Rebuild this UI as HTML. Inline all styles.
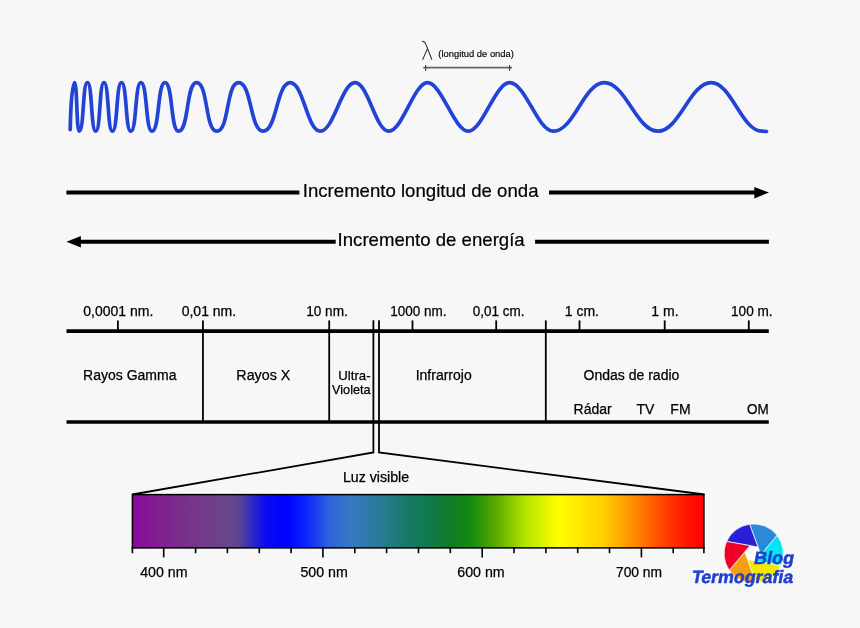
<!DOCTYPE html>
<html><head><meta charset="utf-8"><style>
html,body{margin:0;padding:0;background:#f7f7f7;}
svg{display:block;will-change:transform;}
</style></head><body>
<svg width="860" height="628" viewBox="0 0 860 628">
<rect width="860" height="628" fill="#f7f7f7"/>
<path d="M422.0,41.3 Q424.6,41.2 425.9,44.4 L431.9,59.8 M427.4,48.9 L422.6,59.8" fill="none" stroke="#333" stroke-width="1.1"/>
<text x="438.3" y="57.3" font-family="Liberation Sans" font-size="9.4" fill="#000" stroke="#000" stroke-width="0.15">(longitud de onda)</text>
<line x1="423.3" y1="67.7" x2="512" y2="67.7" stroke="#666" stroke-width="1.7"/>
<line x1="425.7" y1="65" x2="425.7" y2="71" stroke="#333" stroke-width="1"/>
<line x1="509.6" y1="65" x2="509.6" y2="71" stroke="#333" stroke-width="1"/>
<path d="M70.2,129.6 C70.8,100 72.6,82.7 74.50,82.70 C77.30,82.70 76.40,131.20 79.20,131.20 C84.06,131.20 82.54,82.70 87.40,82.70 C92.38,82.70 90.82,131.20 95.80,131.20 C100.66,131.20 99.14,82.70 104.00,82.70 C108.98,82.70 107.42,131.20 112.40,131.20 C117.78,131.20 116.12,82.70 121.50,82.70 C127.00,82.70 125.30,131.20 130.80,131.20 C136.77,131.20 134.93,82.70 140.90,82.70 C147.45,82.70 145.45,131.20 152.00,131.20 C159.65,131.20 157.35,82.70 165.00,82.70 C172.93,82.70 170.57,131.20 178.50,131.20 C189.01,131.20 185.99,82.70 196.50,82.70 C208.31,82.70 204.99,131.20 216.80,131.20 C229.45,131.20 225.95,82.70 238.60,82.70 C251.84,82.70 249.96,131.20 263.20,131.20 C276.70,131.20 276.70,82.70 290.20,82.70 C303.70,82.70 306.90,131.20 320.40,131.20 C333.55,131.20 341.85,82.70 355.00,82.70 C368.26,82.70 375.54,131.20 388.80,131.20 C402.35,131.20 414.05,82.70 427.60,82.70 C441.47,82.70 454.33,131.20 468.20,131.20 C482.37,131.20 495.33,82.70 509.50,82.70 C525.78,82.70 537.22,131.20 553.50,131.20 C573.78,131.20 584.02,82.70 604.30,82.70 C625.78,82.70 636.52,131.20 658.00,131.20 C679.28,131.20 689.92,82.70 711.20,82.70 C731.48,82.70 741.72,131.20 762.00,131.20 L766.60,131.50" fill="none" stroke="#2143d6" stroke-width="3.7" stroke-linecap="round"/>
<line x1="66.4" y1="192.6" x2="299.4" y2="192.6" stroke="#000" stroke-width="4"/>
<line x1="549" y1="192.6" x2="756" y2="192.6" stroke="#000" stroke-width="4"/>
<polygon points="754.3,186.9 769,192.6 754.3,198.4" fill="#000"/>
<text x="302.8" y="196.9" font-family="Liberation Sans" font-size="18.6" fill="#000" stroke="#000" stroke-width="0.2">Incremento longitud de onda</text>
<line x1="79" y1="241.8" x2="335.7" y2="241.8" stroke="#000" stroke-width="4"/>
<line x1="535.1" y1="241.8" x2="768.9" y2="241.8" stroke="#000" stroke-width="4"/>
<polygon points="80.9,236 66.4,241.8 80.9,247.6" fill="#000"/>
<text x="337.6" y="246.2" font-family="Liberation Sans" font-size="18.6" fill="#000" stroke="#000" stroke-width="0.2">Incremento de energía</text>
<line x1="66.5" y1="331.15" x2="768.8" y2="331.15" stroke="#000" stroke-width="3.8"/>
<line x1="66.5" y1="422.0" x2="768.8" y2="422.0" stroke="#000" stroke-width="3.6"/>
<line x1="117.9" y1="320.4" x2="117.9" y2="331" stroke="#000" stroke-width="1.8"/>
<line x1="412.5" y1="320.4" x2="412.5" y2="331" stroke="#000" stroke-width="1.8"/>
<line x1="496.2" y1="320.4" x2="496.2" y2="331" stroke="#000" stroke-width="1.8"/>
<line x1="579.5" y1="320.4" x2="579.5" y2="331" stroke="#000" stroke-width="1.8"/>
<line x1="664.7" y1="320.4" x2="664.7" y2="331" stroke="#000" stroke-width="1.8"/>
<line x1="748.8" y1="320.4" x2="748.8" y2="331" stroke="#000" stroke-width="1.8"/>
<line x1="202.95" y1="320.4" x2="202.95" y2="422" stroke="#000" stroke-width="1.8"/>
<line x1="329.2" y1="320.4" x2="329.2" y2="422" stroke="#000" stroke-width="1.8"/>
<line x1="545.8" y1="320.4" x2="545.8" y2="422" stroke="#000" stroke-width="1.8"/>
<polyline points="373.4,320.2 373.4,452.5 132.2,494.5" fill="none" stroke="#000" stroke-width="1.8"/>
<polyline points="379.0,320.2 379.0,452.5 704.5,494.5" fill="none" stroke="#000" stroke-width="1.8"/>
<text x="83.3" y="315.8" font-family="Liberation Sans" font-size="14" fill="#000" stroke="#000" stroke-width="0.25">0,0001 nm.</text>
<text x="181.7" y="315.8" font-family="Liberation Sans" font-size="14" fill="#000" stroke="#000" stroke-width="0.25">0,01 nm.</text>
<text x="306.13" y="315.8" font-family="Liberation Sans" font-size="14" fill="#000" stroke="#000" stroke-width="0.25" textLength="41.66" lengthAdjust="spacingAndGlyphs">10 nm.</text>
<text x="390.13" y="315.8" font-family="Liberation Sans" font-size="14" fill="#000" stroke="#000" stroke-width="0.25" textLength="56.39" lengthAdjust="spacingAndGlyphs">1000 nm.</text>
<text x="472.8" y="315.8" font-family="Liberation Sans" font-size="14" fill="#000" stroke="#000" stroke-width="0.25" textLength="51.68" lengthAdjust="spacingAndGlyphs">0,01 cm.</text>
<text x="564.72" y="315.8" font-family="Liberation Sans" font-size="14" fill="#000" stroke="#000" stroke-width="0.25">1 cm.</text>
<text x="651.37" y="315.8" font-family="Liberation Sans" font-size="14" fill="#000" stroke="#000" stroke-width="0.25">1 m.</text>
<text x="731.03" y="315.8" font-family="Liberation Sans" font-size="14" fill="#000" stroke="#000" stroke-width="0.25" textLength="41.56" lengthAdjust="spacingAndGlyphs">100 m.</text>
<text x="83.11" y="379.8" font-family="Liberation Sans" font-size="14" fill="#000" stroke="#000" stroke-width="0.25">Rayos Gamma</text>
<text x="236.38" y="379.7" font-family="Liberation Sans" font-size="14" fill="#000" stroke="#000" stroke-width="0.25" textLength="53.96" lengthAdjust="spacingAndGlyphs">Rayos X</text>
<text x="338.31" y="379.9" font-family="Liberation Sans" font-size="13.2" fill="#000" stroke="#000" stroke-width="0.25">Ultra-</text>
<text x="332.1" y="394.1" font-family="Liberation Sans" font-size="13.2" fill="#000" stroke="#000" stroke-width="0.25" textLength="38.49" lengthAdjust="spacingAndGlyphs">Violeta</text>
<text x="415.69" y="380.0" font-family="Liberation Sans" font-size="14" fill="#000" stroke="#000" stroke-width="0.25">Infrarrojo</text>
<text x="583.6" y="380.0" font-family="Liberation Sans" font-size="14" fill="#000" stroke="#000" stroke-width="0.25">Ondas de radio</text>
<text x="573.59" y="413.7" font-family="Liberation Sans" font-size="14" fill="#000" stroke="#000" stroke-width="0.25">Rádar</text>
<text x="636.5" y="413.7" font-family="Liberation Sans" font-size="14" fill="#000" stroke="#000" stroke-width="0.25">TV</text>
<text x="670.33" y="413.7" font-family="Liberation Sans" font-size="14" fill="#000" stroke="#000" stroke-width="0.25">FM</text>
<text x="747.0" y="413.7" font-family="Liberation Sans" font-size="14" fill="#000" stroke="#000" stroke-width="0.25" textLength="21.74" lengthAdjust="spacingAndGlyphs">OM</text>
<text x="342.91" y="482.4" font-family="Liberation Sans" font-size="14.2" fill="#000" stroke="#000" stroke-width="0.25">Luz visible</text>
<defs><linearGradient id="sp" x1="0" y1="0" x2="1" y2="0"><stop offset="-0.0007" stop-color="#8a08a0"/><stop offset="0.0483" stop-color="#80208f"/><stop offset="0.1183" stop-color="#743a8a"/><stop offset="0.1708" stop-color="#6a4788"/><stop offset="0.1918" stop-color="#52409a"/><stop offset="0.2110" stop-color="#2c26c6"/><stop offset="0.2320" stop-color="#0c0cf0"/><stop offset="0.2670" stop-color="#0000ff"/><stop offset="0.3020" stop-color="#0a22ff"/><stop offset="0.3458" stop-color="#3064d8"/><stop offset="0.3808" stop-color="#3878c4"/><stop offset="0.4332" stop-color="#2a7a95"/><stop offset="0.4892" stop-color="#137a60"/><stop offset="0.5382" stop-color="#117a3a"/><stop offset="0.5645" stop-color="#11801f"/><stop offset="0.5942" stop-color="#168a10"/><stop offset="0.6345" stop-color="#58a800"/><stop offset="0.6870" stop-color="#b4e400"/><stop offset="0.7447" stop-color="#ffff00"/><stop offset="0.8234" stop-color="#ffd000"/><stop offset="0.8812" stop-color="#ff8800"/><stop offset="0.9319" stop-color="#ff4000"/><stop offset="0.9757" stop-color="#ff1000"/><stop offset="1.0002" stop-color="#ff0000"/></linearGradient></defs>
<rect x="132.4" y="494.6" width="571.5" height="53.3" fill="url(#sp)" stroke="#000" stroke-width="1.5"/>
<line x1="132.4" y1="547" x2="132.4" y2="553.2" stroke="#000" stroke-width="1.6"/>
<line x1="163.7" y1="547" x2="163.7" y2="557.4" stroke="#000" stroke-width="1.6"/>
<line x1="195.6" y1="547" x2="195.6" y2="553.2" stroke="#000" stroke-width="1.6"/>
<line x1="227.4" y1="547" x2="227.4" y2="553.2" stroke="#000" stroke-width="1.6"/>
<line x1="259.3" y1="547" x2="259.3" y2="553.2" stroke="#000" stroke-width="1.6"/>
<line x1="291.1" y1="547" x2="291.1" y2="553.2" stroke="#000" stroke-width="1.6"/>
<line x1="322.9" y1="547" x2="322.9" y2="557.4" stroke="#000" stroke-width="1.6"/>
<line x1="354.8" y1="547" x2="354.8" y2="553.2" stroke="#000" stroke-width="1.6"/>
<line x1="386.6" y1="547" x2="386.6" y2="553.2" stroke="#000" stroke-width="1.6"/>
<line x1="418.5" y1="547" x2="418.5" y2="553.2" stroke="#000" stroke-width="1.6"/>
<line x1="450.3" y1="547" x2="450.3" y2="553.2" stroke="#000" stroke-width="1.6"/>
<line x1="482.2" y1="547" x2="482.2" y2="557.4" stroke="#000" stroke-width="1.6"/>
<line x1="514.0" y1="547" x2="514.0" y2="553.2" stroke="#000" stroke-width="1.6"/>
<line x1="545.9" y1="547" x2="545.9" y2="553.2" stroke="#000" stroke-width="1.6"/>
<line x1="577.7" y1="547" x2="577.7" y2="553.2" stroke="#000" stroke-width="1.6"/>
<line x1="609.5" y1="547" x2="609.5" y2="553.2" stroke="#000" stroke-width="1.6"/>
<line x1="641.4" y1="547" x2="641.4" y2="557.4" stroke="#000" stroke-width="1.6"/>
<line x1="673.2" y1="547" x2="673.2" y2="553.2" stroke="#000" stroke-width="1.6"/>
<line x1="703.9" y1="547" x2="703.9" y2="553.2" stroke="#000" stroke-width="1.6"/>
<text x="140.2" y="576.8" font-family="Liberation Sans" font-size="14.2" fill="#000" stroke="#000" stroke-width="0.25">400 nm</text>
<text x="300.4" y="576.8" font-family="Liberation Sans" font-size="14.2" fill="#000" stroke="#000" stroke-width="0.25">500 nm</text>
<text x="457.3" y="576.8" font-family="Liberation Sans" font-size="14.2" fill="#000" stroke="#000" stroke-width="0.25">600 nm</text>
<text x="616.0" y="576.8" font-family="Liberation Sans" font-size="14.2" fill="#000" stroke="#000" stroke-width="0.25" textLength="46.02" lengthAdjust="spacingAndGlyphs">700 nm</text>
<circle cx="753.7" cy="553.5" r="29.6" fill="#fff"/>
<path d="M758.07,547.02 L749.75,524.16 A29.6,29.6 0 0 0 726.65,541.48 Z" fill="#2a1fd8" stroke="#fff" stroke-width="0.7" stroke-linejoin="round"/>
<path d="M760.88,554.72 L777.11,535.38 A29.6,29.6 0 0 0 749.75,524.16 Z" fill="#2a8ad8" stroke="#fff" stroke-width="0.7" stroke-linejoin="round"/>
<path d="M755.60,561.01 L780.78,565.45 A29.6,29.6 0 0 0 777.11,535.38 Z" fill="#00e5f0" stroke="#fff" stroke-width="0.7" stroke-linejoin="round"/>
<path d="M747.53,559.58 L756.06,583.01 A29.6,29.6 0 0 0 780.78,565.45 Z" fill="#f5e800" stroke="#fff" stroke-width="0.7" stroke-linejoin="round"/>
<path d="M744.72,551.88 L729.30,570.26 A29.6,29.6 0 0 0 756.06,583.01 Z" fill="#f5a010" stroke="#fff" stroke-width="0.7" stroke-linejoin="round"/>
<path d="M750.00,545.59 L726.65,541.48 A29.6,29.6 0 0 0 729.30,570.26 Z" fill="#f00028" stroke="#fff" stroke-width="0.7" stroke-linejoin="round"/>
<g transform="translate(753.2,563.5) skewX(-10)"><text x="0" y="0" font-family="Liberation Sans" font-size="18" font-weight="bold" fill="#1f3fd0" stroke="#1f3fd0" stroke-width="0.5">Blog</text></g>
<g transform="translate(690.9,582.6) skewX(-10)"><text x="0" y="0" font-family="Liberation Sans" font-size="17.8" font-weight="bold" fill="#1f3fd0" stroke="#1f3fd0" stroke-width="0.5">Termografia</text></g>
</svg>
</body></html>
